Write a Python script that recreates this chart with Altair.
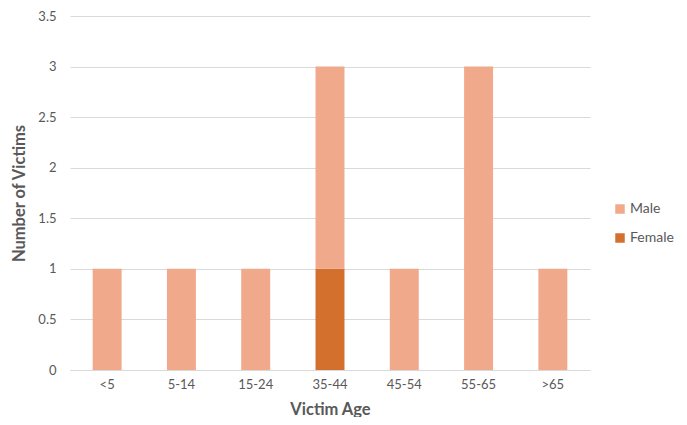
import altair as alt
import pandas as pd

categories = ["<5", "5-14", "15-24", "35-44", "45-54", "55-65", ">65"]
male = [1, 1, 1, 2, 1, 3, 1]
female = [0, 0, 0, 1, 0, 0, 0]

rows = []
for c, m, f in zip(categories, male, female):
    rows.append({"age": c, "sex": "Female", "count": f, "ord": 0})
    rows.append({"age": c, "sex": "Male", "count": m, "ord": 1})
df = pd.DataFrame(rows)

FONT = "Lato"
GRAY = "#595959"

chart = alt.Chart(df).mark_bar().encode(
    x=alt.X("age:N", sort=categories,
            scale=alt.Scale(paddingInner=0.61, paddingOuter=0.305),
            axis=alt.Axis(title="Victim Age", labelAngle=0, ticks=False,
                          domainColor="#D9D9D9", domainWidth=1,
                          labelPadding=8, titlePadding=10)),
    y=alt.Y("count:Q", stack="zero",
            scale=alt.Scale(domain=[0, 3.5]),
            axis=alt.Axis(title="Number of Victims", values=[0, 0.5, 1, 1.5, 2, 2.5, 3, 3.5],
                          format="~g",
                          ticks=False, domain=False, gridColor="#D9D9D9",
                          labelPadding=14, titlePadding=10)),
    color=alt.Color("sex:N",
                    scale=alt.Scale(domain=["Male", "Female"], range=["#F1A98B", "#D3702D"]),
                    legend=alt.Legend(title=None, orient="none", legendX=543, legendY=186,
                                      symbolType="square", symbolSize=90, rowPadding=15,
                                      labelFontSize=14, labelOffset=3,
                                      labelColor=GRAY, labelFont=FONT,
                                      symbolStrokeWidth=0)),
    order=alt.Order("ord:Q", sort="ascending"),
).properties(
    width=520, height=354,
    autosize=alt.AutoSizeParams(type="none"),
    padding={"left": 62, "top": 8, "right": 88, "bottom": 47},
    background="white",
).configure_view(stroke=None).configure_axis(
    labelFont=FONT, titleFont=FONT, labelColor=GRAY, titleColor=GRAY,
    labelFontSize=13, titleFontSize=16.5, titleFontWeight="bold",
)

chart.save("out.html", embed_options={"renderer": "svg", "actions": False})
